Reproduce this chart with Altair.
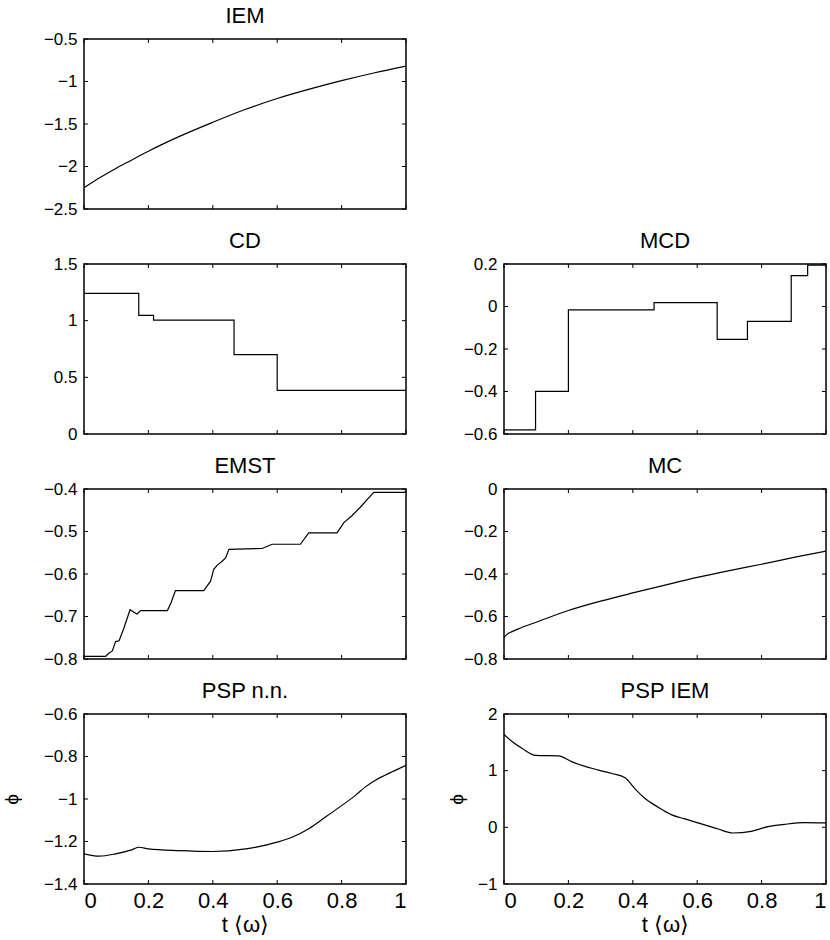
import altair as alt
import pandas as pd

FONT = "Liberation Sans"
W, H = 322, 170
TICK = 4

# ---- data ----
x_ticks = [0, 0.2, 0.4, 0.6, 0.8, 1.0]

iem_t = [0, 0.05, 0.1, 0.15, 0.2, 0.3, 0.4, 0.5, 0.6, 0.7, 0.8, 0.9, 1.0]
iem_v = [-2.25, -2.13, -2.02, -1.92, -1.82, -1.64, -1.48, -1.33, -1.20, -1.09, -0.99, -0.90, -0.82]
iem_y = [-2.5, -2, -1.5, -1, -0.5]

cd_t = [0, 0.170, 0.216, 0.466, 0.600, 1.0]
cd_v = [1.24, 1.046, 1.005, 0.70, 0.385, 0.385]
cd_y = [0, 0.5, 1, 1.5]

mcd_t = [0, 0.098, 0.200, 0.466, 0.662, 0.756, 0.892, 0.943, 1.0]
mcd_v = [-0.581, -0.399, -0.016, 0.018, -0.155, -0.07, 0.145, 0.195, 0.195]
mcd_y = [-0.6, -0.4, -0.2, 0, 0.2]

emst_t = [0, 0.067, 0.078, 0.088, 0.098, 0.109, 0.124, 0.143, 0.155, 0.165, 0.176, 0.259,
          0.270, 0.284, 0.372, 0.393, 0.403, 0.414, 0.429, 0.440, 0.450, 0.553, 0.584, 0.672,
          0.698, 0.786, 0.807, 0.832, 0.858, 0.884, 0.900, 0.996, 1.0]
emst_v = [-0.794, -0.794, -0.786, -0.781, -0.759, -0.757, -0.727, -0.684, -0.690, -0.694,
          -0.686, -0.686, -0.668, -0.639, -0.639, -0.617, -0.589, -0.579, -0.570, -0.562,
          -0.542, -0.540, -0.530, -0.530, -0.503, -0.503, -0.479, -0.463, -0.443, -0.421,
          -0.408, -0.408, -0.404]
emst_y = [-0.8, -0.7, -0.6, -0.5, -0.4]

mc_t = [0, 0.01, 0.025, 0.05, 0.1, 0.2, 0.3, 0.4, 0.5, 0.6, 0.7, 0.8, 0.9, 1.0]
mc_v = [-0.70, -0.683, -0.671, -0.655, -0.627, -0.572, -0.528, -0.489, -0.452, -0.416,
        -0.384, -0.354, -0.322, -0.292]
mc_y = [-0.8, -0.6, -0.4, -0.2, 0]

pnn_t = [0, 0.047, 0.098, 0.150, 0.171, 0.2, 0.295, 0.398, 0.502, 0.6, 0.646, 0.698,
         0.75, 0.801, 0.843, 0.874, 0.905, 0.957, 1.0]
pnn_v = [-1.258, -1.269, -1.258, -1.238, -1.227, -1.235, -1.243, -1.247, -1.235, -1.203,
         -1.180, -1.140, -1.085, -1.030, -0.983, -0.943, -0.912, -0.872, -0.841]
pnn_y = [-1.4, -1.2, -1, -0.8, -0.6]

piem_t = [0, 0.026, 0.057, 0.098, 0.170, 0.211, 0.294, 0.335, 0.376, 0.407, 0.438, 0.479,
          0.521, 0.562, 0.613, 0.665, 0.711, 0.768, 0.820, 0.871, 0.933, 1.0]
piem_v = [1.64, 1.51, 1.39, 1.27, 1.26, 1.155, 1.01, 0.95, 0.875, 0.68, 0.51, 0.355, 0.22,
          0.148, 0.06, -0.03, -0.10, -0.07, 0.012, 0.053, 0.083, 0.077]
piem_y = [-1, 0, 1, 2]


def panel(title, t, v, yticks, interp="monotone", bottom=False, ytpad=0):
    df = pd.DataFrame({"t": t, "v": v})
    xs = alt.Scale(domain=[0, 1], nice=False, zero=False)
    ys = alt.Scale(domain=[min(yticks), max(yticks)], nice=False, zero=False)
    if bottom:
        xaxis = alt.Axis(values=x_ticks, format=".1~f", title="t ⟨ω⟩", ticks=False,
                         domain=False, grid=False, labelPadding=6, titlePadding=3,
                         labelFontSize=22, titleFontSize=22)
        ytitle = "ϕ"
    else:
        xaxis = None
        ytitle = ""
    yaxis = alt.Axis(values=yticks, format=".2~f", title=ytitle, ticks=False, domain=False,
                     grid=False, labelPadding=7, titlePadding=ytpad, titleFontSize=19)
    X = lambda: alt.X("t:Q", scale=xs, axis=xaxis)
    Y = lambda: alt.Y("v:Q", scale=ys, axis=yaxis)
    line = alt.Chart(df).mark_line(color="black", strokeWidth=1.2, interpolate=interp,
                                   clip=True).encode(x=X(), y=Y())
    xt = pd.DataFrame({"t": x_ticks})
    yt = pd.DataFrame({"v": yticks})
    xb = alt.Chart(xt).mark_rule(color="black", strokeWidth=1).encode(
        x=X(), y=alt.value(H), y2=alt.value(H - TICK))
    xtp = alt.Chart(xt).mark_rule(color="black", strokeWidth=1).encode(
        x=X(), y=alt.value(0), y2=alt.value(TICK))
    yl = alt.Chart(yt).mark_rule(color="black", strokeWidth=1).encode(
        y=Y(), x=alt.value(0), x2=alt.value(TICK))
    yr = alt.Chart(yt).mark_rule(color="black", strokeWidth=1).encode(
        y=Y(), x=alt.value(W), x2=alt.value(W - TICK))
    return alt.layer(line, xb, xtp, yl, yr).properties(
        width=W, height=H, title=alt.TitleParams(title))


empty = alt.Chart(pd.DataFrame({"t": [0.0], "v": [0.0]})).mark_point(opacity=0).encode(
    x=alt.X("t:Q", axis=None), y=alt.Y("v:Q", axis=None)
).properties(width=W, height=H, view=alt.ViewBackground(stroke="transparent"))

chart = alt.concat(
    panel("IEM", iem_t, iem_v, iem_y),
    empty,
    panel("CD", cd_t, cd_v, cd_y, "step-after"),
    panel("MCD", mcd_t, mcd_v, mcd_y, "step-after"),
    panel("EMST", emst_t, emst_v, emst_y, "linear"),
    panel("MC", mc_t, mc_v, mc_y),
    panel("PSP n.n.", pnn_t, pnn_v, pnn_y, bottom=True, ytpad=22),
    panel("PSP IEM", piem_t, piem_v, piem_y, bottom=True, ytpad=11),
    columns=2,
    spacing={"row": 11, "column": 38},
    align="each",
).properties(
    padding={"left": 1, "top": 4, "right": 0, "bottom": 0},
    background="white",
).configure_view(
    stroke="black", strokeWidth=1.5
).configure_axis(
    labelFont=FONT, labelFontSize=17, labelColor="black",
    titleFont=FONT, titleFontSize=19, titleColor="black", titleFontWeight="normal",
).configure_title(
    font=FONT, fontSize=22, fontWeight="normal", color="black", anchor="middle",
    frame="group", offset=2,
)

chart.save("out.html", embed_options={"renderer": "svg", "actions": False})
